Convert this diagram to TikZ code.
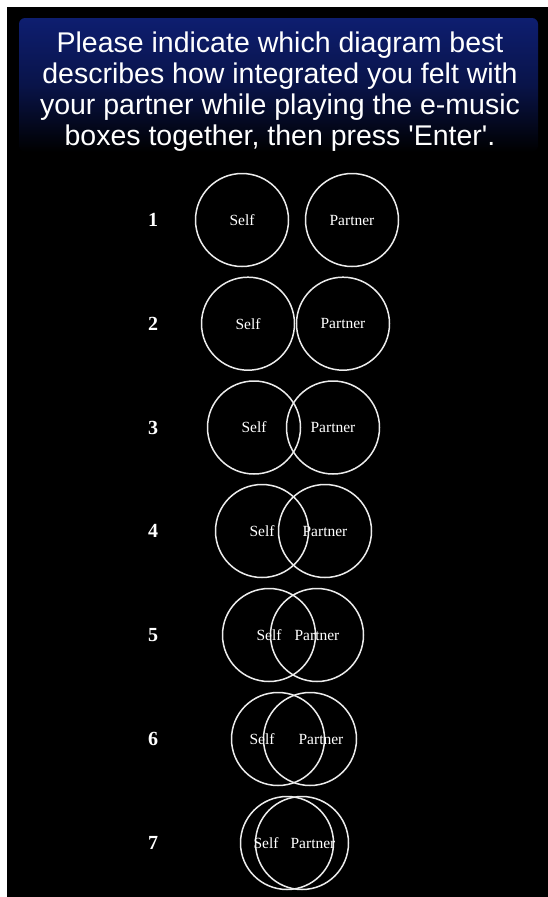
\documentclass[tikz,border=0pt]{standalone}
\usepackage{fontspec}
\setmainfont{Liberation Serif}
\newfontfamily\titlefont{Liberation Sans}
\definecolor{boxblue}{RGB}{14,30,112}
\definecolor{ringcol}{RGB}{236,236,236}
\tikzset{
  ring/.style={draw=ringcol, line width=1.5pt, circle, minimum size=93pt, inner sep=0pt},
  lbl/.style={text=white, font=\fontsize{15.5}{15.5}\selectfont, inner sep=0pt},
  numlbl/.style={text=white, font=\bfseries\fontsize{20}{20}\selectfont, inner sep=0pt},
  titletxt/.style={text=white, align=center, inner sep=0pt, font=\titlefont\fontsize{28.5}{31}\selectfont}
}
\begin{document}
\begin{tikzpicture}[x=1pt,y=-1pt]
\useasboundingbox (0,0) rectangle (548,897);
\fill[white] (0,0) rectangle (548,897);
\fill[black] (7,7) rectangle (548,897);
\shade[top color=boxblue, bottom color=black, middle color=boxblue!65!black, rounded corners=6pt] (19,18) rectangle (538,152);
\node[titletxt, anchor=base] (title) at (280,145) {Please indicate which diagram best\\describes how integrated you felt with\\your partner while playing the e-music\\boxes together, then press 'Enter'.};
% row 1
\node[numlbl] (n1) at (153,220) {1};
\node[ring] (s1) at (242,220) {};
\node[ring] (p1) at (352,220) {};
\node[lbl] (ts1) at (242,220) {Self};
\node[lbl] (tp1) at (352,220) {Partner};
% row 2
\node[numlbl] (n2) at (153,323.7) {2};
\node[ring] (s2) at (248,323.7) {};
\node[ring] (p2) at (343,323.7) {};
\node[lbl] (ts2) at (248,323.7) {Self};
\node[lbl] (tp2) at (343,323.7) {Partner};
% row 3
\node[numlbl] (n3) at (153,427.5) {3};
\node[ring] (s3) at (254,427.5) {};
\node[ring] (p3) at (333,427.5) {};
\node[lbl] (ts3) at (254,427.5) {Self};
\node[lbl] (tp3) at (333,427.5) {Partner};
% row 4
\node[numlbl] (n4) at (153,531) {4};
\node[ring] (s4) at (262,531) {};
\node[ring] (p4) at (325,531) {};
\node[lbl] (ts4) at (262,531) {Self};
\node[lbl] (tp4) at (325,531) {Partner};
% row 5
\node[numlbl] (n5) at (153,635) {5};
\node[ring] (s5) at (269,635) {};
\node[ring] (p5) at (317,635) {};
\node[lbl] (ts5) at (269,635) {Self};
\node[lbl] (tp5) at (317,635) {Partner};
% row 6
\node[numlbl] (n6) at (153,739) {6};
\node[ring] (s6) at (278,739) {};
\node[ring] (p6) at (310,739) {};
\node[lbl] (ts6) at (262,739) {Self};
\node[lbl] (tp6) at (321,739) {Partner};
% row 7
\node[numlbl] (n7) at (153,843) {7};
\node[ring] (s7) at (287,843) {};
\node[ring] (p7) at (302,843) {};
\node[lbl] (ts7) at (266,843) {Self};
\node[lbl] (tp7) at (313,843) {Partner};
\end{tikzpicture}
\end{document}
